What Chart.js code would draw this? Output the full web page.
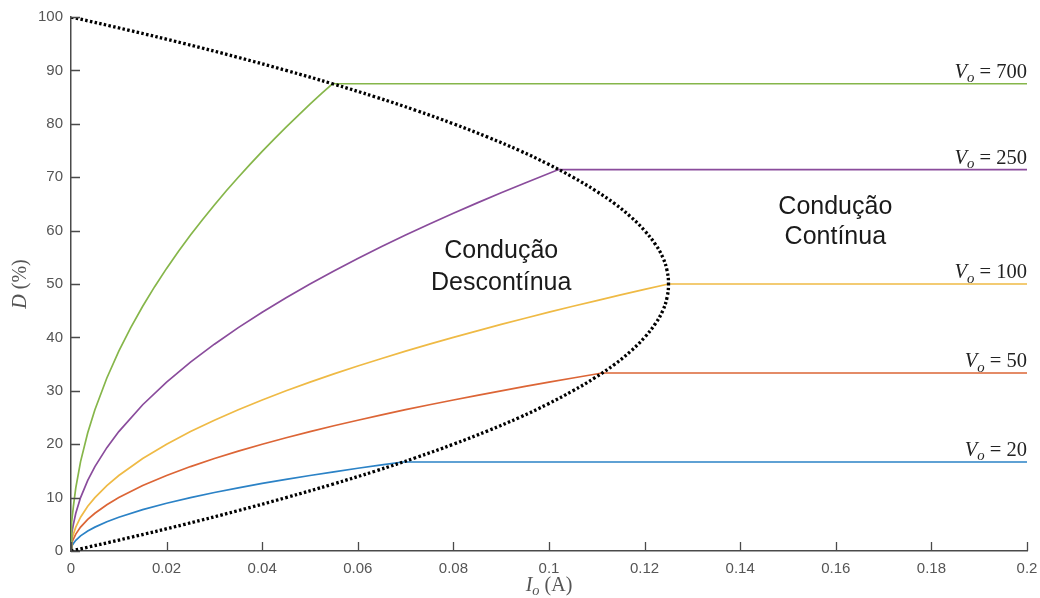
<!DOCTYPE html>
<html>
<head>
<meta charset="utf-8">
<script src="https://cdn.jsdelivr.net/npm/chart.js@4.4.1/dist/chart.umd.min.js"></script>
<style>
  html, body { margin: 0; padding: 0; background: #fff; }
  canvas { display: block; }
</style>
</head>
<body>
<canvas id="chart" width="1040" height="598"></canvas>
<script>
// Io (A) e D (%)
const io20 = [0, 0.00005, 0.0002, 0.0005, 0.001, 0.002, 0.0035, 0.005, 0.0075, 0.01, 0.015, 0.02, 0.025, 0.03, 0.035, 0.04, 0.045, 0.05, 0.055, 0.06, 0.065, 0.0694, 0.2];
const d20 = [0, 0.45, 0.89, 1.41, 2.0, 2.83, 3.74, 4.47, 5.48, 6.32, 7.75, 8.94, 10.0, 10.95, 11.83, 12.65, 13.42, 14.14, 14.83, 15.49, 16.12, 16.67, 16.67];

const io50 = [0, 0.00005, 0.0002, 0.0005, 0.001, 0.002, 0.0035, 0.005, 0.0075, 0.01, 0.015, 0.02, 0.025, 0.03, 0.035, 0.04, 0.045, 0.05, 0.055, 0.06, 0.065, 0.07, 0.075, 0.08, 0.085, 0.09, 0.095, 0.1, 0.105, 0.1111, 0.2];
const d50 = [0, 0.71, 1.41, 2.24, 3.16, 4.47, 5.92, 7.07, 8.66, 10, 12.25, 14.14, 15.81, 17.32, 18.71, 20, 21.21, 22.36, 23.45, 24.49, 25.5, 26.46, 27.39, 28.28, 29.15, 30, 30.82, 31.62, 32.4, 33.33, 33.33];

const io100 = [0, 0.00005, 0.0002, 0.0005, 0.001, 0.002, 0.0035, 0.005, 0.0075, 0.01, 0.015, 0.02, 0.025, 0.03, 0.035, 0.04, 0.045, 0.05, 0.055, 0.06, 0.065, 0.07, 0.075, 0.08, 0.085, 0.09, 0.095, 0.1, 0.105, 0.11, 0.115, 0.12, 0.125, 0.2];
const d100 = [0, 1.0, 2.0, 3.16, 4.47, 6.32, 8.37, 10, 12.25, 14.14, 17.32, 20, 22.36, 24.49, 26.46, 28.28, 30, 31.62, 33.17, 34.64, 36.06, 37.42, 38.73, 40, 41.23, 42.43, 43.59, 44.72, 45.83, 46.9, 47.96, 48.99, 50, 50];

const io250 = [0, 0.00005, 0.0002, 0.0005, 0.001, 0.002, 0.0035, 0.005, 0.0075, 0.01, 0.015, 0.02, 0.025, 0.03, 0.035, 0.04, 0.045, 0.05, 0.055, 0.06, 0.065, 0.07, 0.075, 0.08, 0.085, 0.09, 0.095, 0.102, 0.2];
const d250 = [0, 1.58, 3.16, 5, 7.07, 10, 13.23, 15.81, 19.36, 22.36, 27.39, 31.62, 35.36, 38.73, 41.83, 44.72, 47.43, 50, 52.44, 54.77, 57.01, 59.16, 61.24, 63.25, 65.19, 67.08, 68.92, 71.43, 71.43];

const io700 = [0, 0.00005, 0.0002, 0.0005, 0.001, 0.002, 0.0035, 0.005, 0.0075, 0.01, 0.0125, 0.015, 0.0175, 0.02, 0.0225, 0.025, 0.0275, 0.03, 0.0325, 0.035, 0.0375, 0.04, 0.0425, 0.045, 0.0475, 0.05, 0.0525, 0.0547, 0.2];
const d700 = [0, 2.65, 5.29, 8.37, 11.83, 16.73, 22.14, 26.46, 32.4, 37.42, 41.83, 45.83, 49.5, 52.92, 56.12, 59.16, 62.05, 64.81, 67.45, 70, 72.46, 74.83, 77.14, 79.37, 81.55, 83.67, 85.73, 87.5, 87.5];

// fronteira entre condução contínua e descontínua
const ioLimite = [0, 0.0122, 0.0238, 0.0347, 0.045, 0.0547, 0.0638, 0.0722, 0.08, 0.0872, 0.0938, 0.0997, 0.105, 0.1097, 0.1138, 0.1172,
  0.12, 0.1222, 0.1238, 0.1247, 0.125, 0.1247, 0.1238, 0.1222, 0.12, 0.1172, 0.1138, 0.1097, 0.105, 0.0997, 0.0938, 0.0872,
  0.08, 0.0722, 0.0638, 0.0547, 0.045, 0.0347, 0.0238, 0.0122, 0];
const dLimite = [0, 2.5, 5, 7.5, 10, 12.5, 15, 17.5, 20, 22.5, 25, 27.5, 30, 32.5, 35, 37.5, 40, 42.5, 45, 47.5, 50,
  52.5, 55, 57.5, 60, 62.5, 65, 67.5, 70, 72.5, 75, 77.5, 80, 82.5, 85, 87.5, 90, 92.5, 95, 97.5, 100];

const tensoes = ['700', '250', '100', '50', '20'];
const cores = ['#86B64A', '#8A4C9C', '#EFBA45', '#DC6536', '#2B82C6'];
const series = [[io700, d700], [io250, d250], [io100, d100], [io50, d50], [io20, d20]];

function pontos(xs, ys) {
    return xs.map((x, i) => ({ x: x, y: ys[i] }));
}

const datasets = series.map((s, i) => ({
    label: 'Vo = ' + tensoes[i],
    data: pontos(s[0], s[1]),
    borderColor: cores[i],
    borderWidth: 1.7,
    tension: 0,
    order: 1
}));

datasets.push({
    label: 'limite',
    data: pontos(ioLimite, dLimite),
    borderColor: '#000',
    borderWidth: 3.3,
    borderDash: [2.5, 2.3],
    tension: 0.4,
    order: 0
});

const corEixo = '#4a4a4a';

// escreve texto com índice (ex.: V_o) em fonte serifada
function textoMat(ctx, partes, x, y, align, size) {
    const medir = p => {
        ctx.font = (p.it ? 'italic ' : '') + (p.sub ? size * 0.72 : size) + 'px "Liberation Serif", serif';
        return ctx.measureText(p.t).width;
    };
    let total = 0;
    partes.forEach(p => total += medir(p));
    let cx = align === 'right' ? x - total : align === 'center' ? x - total / 2 : x;
    ctx.textAlign = 'left';
    ctx.textBaseline = 'alphabetic';
    partes.forEach(p => {
        const w = medir(p);
        ctx.fillText(p.t, cx, p.sub ? y + size * 0.22 : y);
        cx += w;
    });
}

const extras = {
    id: 'extras',
    afterDraw(chart) {
        const ctx = chart.ctx;
        const xs = chart.scales.x, ys = chart.scales.y;
        const area = chart.chartArea;
        ctx.save();

        // marcas dos eixos para dentro
        ctx.strokeStyle = corEixo;
        ctx.lineWidth = 1.3;
        ctx.beginPath();
        xs.ticks.forEach(t => {
            const px = Math.round(xs.getPixelForValue(t.value)) + 0.5;
            ctx.moveTo(px, area.bottom);
            ctx.lineTo(px, area.bottom - 9);
        });
        ys.ticks.forEach(t => {
            const py = Math.round(ys.getPixelForValue(t.value)) + 0.5;
            ctx.moveTo(area.left, py);
            ctx.lineTo(area.left + 9, py);
        });
        ctx.stroke();

        // rótulos V_o
        ctx.fillStyle = '#222';
        series.forEach((s, i) => {
            const nivel = s[1][s[1].length - 1];
            const py = ys.getPixelForValue(nivel) - 6;
            textoMat(ctx, [{ t: 'V', it: true }, { t: 'o', it: true, sub: true }, { t: ' = ' + tensoes[i] }],
                area.right, py, 'right', 20.5);
        });

        // títulos dos eixos
        ctx.fillStyle = '#555';
        textoMat(ctx, [{ t: 'I', it: true }, { t: 'o', it: true, sub: true }, { t: ' (A)' }],
            (area.left + area.right) / 2, 591, 'center', 20);
        ctx.save();
        ctx.translate(26, (area.top + area.bottom) / 2);
        ctx.rotate(-Math.PI / 2);
        textoMat(ctx, [{ t: 'D', it: true }, { t: ' (%)' }], 0, 0, 'center', 20);
        ctx.restore();

        // regiões
        ctx.fillStyle = '#1a1a1a';
        ctx.font = '25px "Liberation Sans", Arial, sans-serif';
        ctx.textAlign = 'center';
        ctx.textBaseline = 'middle';
        const dx = xs.getPixelForValue(0.09), dy = ys.getPixelForValue(56.2);
        ctx.fillText('Condução', dx, dy);
        ctx.fillText('Descontínua', dx, dy + 32);
        const cx = xs.getPixelForValue(0.1599), cy = ys.getPixelForValue(64.4);
        ctx.fillText('Condução', cx, cy);
        ctx.fillText('Contínua', cx, cy + 30);

        ctx.restore();
    }
};

new Chart(document.getElementById('chart'), {
    type: 'scatter',
    data: { datasets: datasets },
    options: {
        responsive: false,
        animation: false,
        showLine: true,
        elements: { point: { radius: 0 } },
        layout: { autoPadding: false, padding: { top: 17, right: 13, left: 0, bottom: 0 } },
        plugins: {
            legend: { display: false },
            tooltip: { enabled: false }
        },
        scales: {
            x: {
                type: 'linear',
                min: 0,
                max: 0.2,
                afterFit: s => { s.height = 47; s.paddingLeft = 0; s.paddingRight = 0; },
                grid: { display: false, drawTicks: false },
                border: { display: true, color: corEixo, width: 1.5 },
                ticks: {
                    stepSize: 0.02,
                    padding: 9,
                    color: '#555',
                    font: { family: '"Liberation Sans", Arial, sans-serif', size: 15 },
                    maxRotation: 0,
                    callback: v => String(parseFloat(v.toFixed(2)))
                }
            },
            y: {
                type: 'linear',
                min: 0,
                max: 100,
                afterFit: s => { s.width = 71; s.paddingTop = 0; s.paddingBottom = 0; },
                grid: { display: false, drawTicks: false },
                border: { display: true, color: corEixo, width: 1.5 },
                ticks: {
                    stepSize: 10,
                    padding: 8,
                    color: '#555',
                    font: { family: '"Liberation Sans", Arial, sans-serif', size: 15 }
                }
            }
        }
    },
    plugins: [extras]
});
</script>
</body>
</html>
